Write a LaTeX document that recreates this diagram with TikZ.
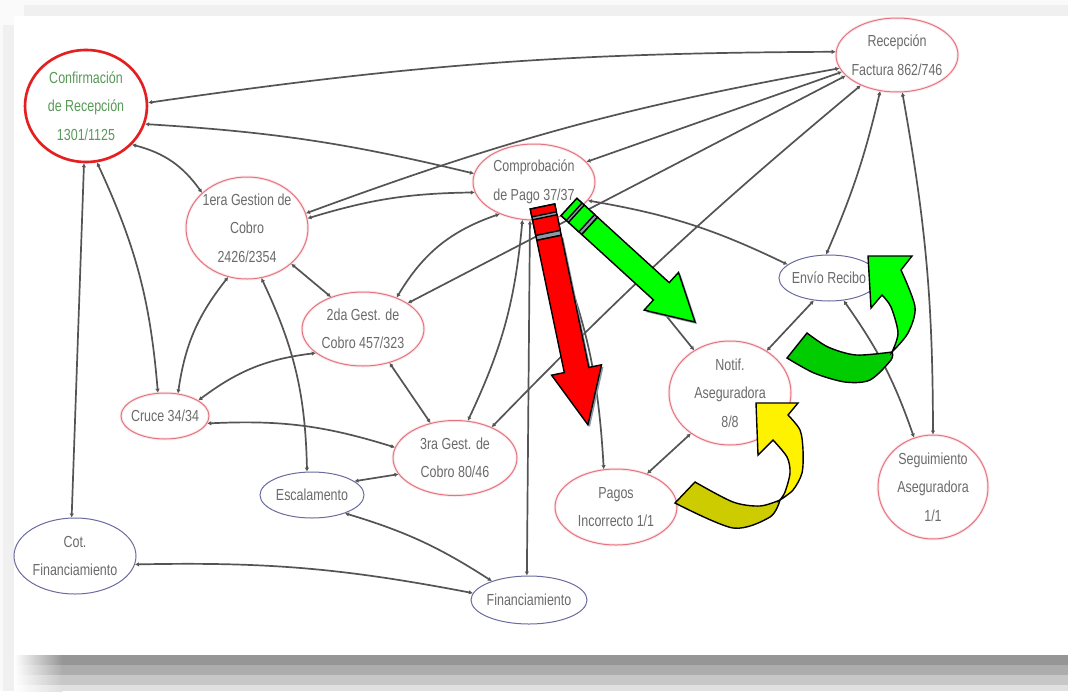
\documentclass[tikz,border=0pt]{standalone}
\usepackage{fontspec}
\newfontfamily\narrowfont[FakeStretch=0.78]{Liberation Sans}
\usetikzlibrary{shapes.geometric,arrows.meta}
\definecolor{linkgray}{rgb}{0.33,0.33,0.33}
\definecolor{nodered}{rgb}{0.9,0.45,0.5}
\definecolor{confred}{rgb}{0.9,0.12,0.12}
\definecolor{nodeblue}{rgb}{0.42,0.42,0.62}
\definecolor{labelgray}{rgb}{0.42,0.42,0.42}
\definecolor{confgreen}{rgb}{0.35,0.6,0.35}
\definecolor{darkyellow}{rgb}{0.8,0.8,0}
\definecolor{darkgreen}{rgb}{0,0.8,0}
\definecolor{stripe}{rgb}{0.55,0.6,0.65}

\begin{document}
\begin{tikzpicture}[
  x=1pt, y=-1pt,
  state/.style = {
    draw,
    ellipse,
    inner sep=-3pt,
    align=center,
    text=labelgray,
    line width=1pt,
    font=\narrowfont\fontsize{16}{28.5}\selectfont,
  },
  redstate/.style = {
    state,
    draw=nodered,
    preaction={draw=nodered, line width=3pt, opacity=0.15},
  },
  bluestate/.style = {
    state,
    draw=nodeblue,
  },
  link/.style = {
    color=linkgray,
    line width=1.7pt,
    <->,
  },
  bigarrow/.style = {
    draw=black,
    line width=1.4pt,
    line join=miter,
  },
  >={Latex[length=4pt,width=4.5pt]},
]

  \useasboundingbox (0,0) rectangle (1068,691);

  % frame
  \fill[black!2] (0,0) rectangle (1068,691);
  \fill[white] (14,16) rectangle (1068,655);
  \fill[black!6] (24,5) rectangle (1068,16);
  \fill[black!6] (3,25) rectangle (14,691);
  \foreach \ya/\yb/\g in {655/665/41, 665/675/32, 675/685/22, 685/691/12} {
    \fill[black!\g] (62,\ya) rectangle (1068,\yb);
    \shade[left color=white, right color=black!\g] (14,\ya) rectangle (62,\yb);
  }

  % states
  \node[redstate, minimum width=122pt, minimum height=112pt, draw=confred, line width=2.6pt, text=confgreen] (conf) at (86,106) {Confirmación\\de Recepción\\1301/1125};
  \node[redstate, minimum width=122pt, minimum height=74pt] (recfact) at (897,55) {Recepción\\Factura 862/746};
  \node[redstate, minimum width=122pt, minimum height=76pt] (comprob) at (534,182) {Comprobación\\de Pago 37/37};
  \node[redstate, minimum width=122pt, minimum height=102pt] (gestion1) at (247,228) {1era Gestion de\\Cobro\\2426/2354};
  \node[redstate, minimum width=122pt, minimum height=74pt] (gestion2) at (363,329) {2da Gest. de\\Cobro 457/323};
  \node[redstate, minimum width=88pt, minimum height=46pt] (cruce) at (165,416) {Cruce 34/34};
  \node[redstate, minimum width=124pt, minimum height=75pt] (gestion3) at (455,458) {3ra Gest. de\\Cobro 80/46};
  \node[bluestate, minimum width=104pt, minimum height=46pt] (escal) at (312,495) {Escalamento};
  \node[bluestate, minimum width=122pt, minimum height=76pt] (cotfin) at (75,556) {Cot.\\Financiamiento};
  \node[bluestate, minimum width=116pt, minimum height=48pt] (financ) at (529,600) {Financiamiento};
  \node[bluestate, minimum width=100pt, minimum height=46pt] (envio) at (829,278) {Envío Recibo};
  \node[redstate, minimum width=122pt, minimum height=104pt] (notif) at (730,393) {Notif.\\Aseguradora\\8/8};
  \node[redstate, minimum width=122pt, minimum height=76pt] (pagos) at (616,507) {Pagos\\Incorrecto 1/1};
  \node[redstate, minimum width=110pt, minimum height=104pt] (seguim) at (933,487) {Seguimiento\\Aseguradora\\1/1};

  % links
  \path[link] (conf.3) edge[bend left=4] (recfact.177);
  \path[link] (conf.-17) edge[bend left=5] (comprob.172);
  \path[link] (conf.-40) edge[bend left=20] (gestion1.142);
  \path[link] (conf.-92) edge (cotfin.95);
  \path[link] (conf.-79) edge[bend left=10] (cruce.107);
  \path[link] (gestion1.14) edge[bend left=5] (recfact.193);
  \path[link] (gestion1.9) edge[bend left=8] (comprob.190);
  \path[link] (comprob.21) edge (recfact.197);
  \path[link] (gestion2.30) edge (recfact.202);
  \path[link] (gestion3.40) edge[bend left=3] (recfact.220);
  \path[link] (comprob.-19) edge[bend left=8] (envio.162);
  \path[link] (comprob.223) edge[bend right=20] (gestion2.43);
  \path[link] (comprob.253) edge[bend left=10] (gestion3.71);
  \path[link] (comprob.-96) edge (financ.95);
  \path[link] (comprob.-74) edge[bend left=10] (pagos.108);
  \path[link] (comprob.-30) edge (notif.130);
  \path[link] (envio.-124) edge (notif.49);
  \path[link] (envio.-57) edge[bend left=8] (seguim.111);
  \path[link] (recfact.-115) edge[bend left=5] (envio.97);
  \path[link] (recfact.-82) edge[bend left=5] (seguim.90);
  \path[link] (notif.226) edge (pagos.47);
  \path[link] (gestion1.-39) edge (gestion2.135);
  \path[link] (gestion1.-111) edge[bend right=15] (cruce.60);
  \path[link] (gestion1.-74) edge[bend left=12] (escal.102);
  \path[link] (gestion2.207) edge[bend right=15] (cruce.25);
  \path[link] (gestion2.-52) edge (gestion3.125);
  \path[link] (cruce.-10) edge[bend left=10] (gestion3.170);
  \path[link] (gestion3.196) edge (escal.18);
  \path[link] (escal.-29) edge[bend left=8] (financ.153);
  \path[link] (cotfin.-8) edge[bend left=6] (financ.173);

  % red arrow
  \begin{scope}[shift={(544.5,208.5)}, rotate=-78.24]
    \fill[stripe] (32,-12.5) -- (167,-12.5) -- (167,-25.5) -- (223,0) -- (167,25.5) -- (167,12.5) -- (32,12.5) -- cycle;
  \end{scope}
  \begin{scope}[shift={(542.5,206.5)}, rotate=-78.24]
    \filldraw[bigarrow, fill=stripe] (0,-12.5) rectangle (32,12.5);
    \filldraw[bigarrow, fill=red] (0,-12.5) rectangle (8,12.5);
    \filldraw[bigarrow, fill=red] (11,-12.5) rectangle (27,12.5);
    \filldraw[bigarrow, fill=red] (32,-12.5) -- (167,-12.5) -- (167,-25.5) -- (223,0) -- (167,25.5) -- (167,12.5) -- (32,12.5) -- cycle;
  \end{scope}

  % green arrow
  \begin{scope}[shift={(571,209)}, rotate=-42.39]
    \fill[stripe] (28,-11.7) -- (125,-11.7) -- (125,-25.5) -- (170.6,0) -- (125,25.5) -- (125,11.7) -- (28,11.7) -- cycle;
  \end{scope}
  \begin{scope}[shift={(569,207)}, rotate=-42.39]
    \filldraw[bigarrow, fill=stripe] (0,-11.7) rectangle (28,11.7);
    \filldraw[bigarrow, fill=green] (0,-11.7) rectangle (7,11.7);
    \filldraw[bigarrow, fill=green] (10,-11.7) rectangle (24,11.7);
    \filldraw[bigarrow, fill=green] (28,-11.7) -- (125,-11.7) -- (125,-25.5) -- (170.6,0) -- (125,25.5) -- (125,11.7) -- (28,11.7) -- cycle;
  \end{scope}

  % curved yellow arrow
  \filldraw[bigarrow, fill=darkyellow] (695,482) -- (675,503)
    -- plot[smooth] coordinates {(675,503) (733,528) (770,517) (780,500)}
    -- plot[smooth] coordinates {(780,500) (760,506) (733,502) (695,482)} -- cycle;
  \filldraw[bigarrow, fill=yellow] (756,403) -- (798,403) -- (788,415)
    -- plot[smooth] coordinates {(788,415) (800,430) (803,450) (802,473) (793,490) (780,500)}
    -- plot[smooth] coordinates {(780,500) (785,492) (790,473) (787,457) (773,440)}
    -- (758,455) -- cycle;

  % curved green arrow
  \filldraw[bigarrow, fill=darkgreen] (807,333) -- (787,358)
    -- plot[smooth] coordinates {(787,358) (814,373) (845,382) (870,380) (891,360) (892,352)}
    -- plot[smooth] coordinates {(892,352) (856,355) (828,347) (807,333)} -- cycle;
  \filldraw[bigarrow, fill=green] (868,256) -- (912,256) -- (901,270)
    -- plot[smooth] coordinates {(901,270) (915,307) (908,333) (892,352)}
    -- plot[smooth] coordinates {(892,352) (898,333) (891,307) (882,295)}
    -- (871,308) -- cycle;

\end{tikzpicture}
\end{document}
